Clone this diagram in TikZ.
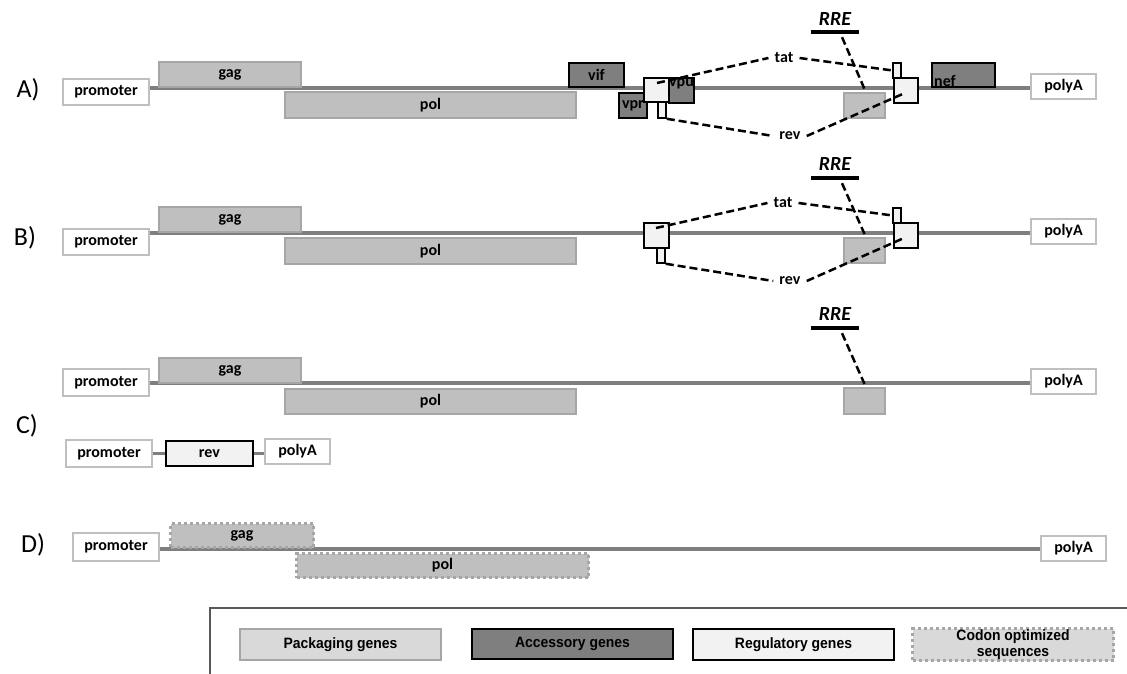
\documentclass[tikz,border=0pt]{standalone}
\usepackage{fontspec}
\setmainfont{Carlito}
\newfontfamily\legfont{Liberation Sans}[FakeStretch=0.93]

\definecolor{packfill}{HTML}{BFBFBF}
\definecolor{packdraw}{HTML}{A6A6A6}
\definecolor{accfill}{HTML}{7F7F7F}
\definecolor{regfill}{HTML}{F2F2F2}
\definecolor{endsdraw}{HTML}{BFBFBF}
\definecolor{bbone}{HTML}{7F7F7F}
\definecolor{legpack}{HTML}{D9D9D9}
\definecolor{legframe}{HTML}{595959}

\tikzset{
  wh/.style 2 args={minimum width=#1pt, minimum height=#2pt},
  box/.style={rectangle, inner sep=0pt, anchor=north west, font=\bfseries\fontsize{16}{17}\selectfont},
  ends/.style={box, draw=endsdraw, fill=white, line width=2pt},
  pack/.style={box, draw=packdraw, fill=packfill, line width=2pt},
  acc/.style={box, draw=black, fill=accfill, line width=2pt},
  reg/.style={box, draw=black, fill=regfill, line width=1.8pt},
  codon/.style={box, draw=packdraw, fill=packfill, line width=3pt, dash pattern=on 3pt off 3pt},
  backbone/.style={draw=bbone, line width=3.5pt},
  splice/.style={draw=black, line width=2.5pt, dash pattern=on 8pt off 4pt},
  rrebar/.style={fill=black, inner sep=0pt, minimum width=48pt, minimum height=4pt},
  lbl/.style={inner sep=0pt, font=\bfseries\fontsize{16}{17}\selectfont},
  gaplbl/.style={lbl, inner xsep=6pt},
  rre/.style={inner sep=0pt, font=\bfseries\itshape\fontsize{20}{21}\selectfont},
  rowlbl/.style={inner sep=0pt, font=\fontsize{26}{27}\selectfont},
  legtxt/.style={font=\legfont\bfseries\fontsize{15}{15}\selectfont, align=center},
}

\begin{document}
\begin{tikzpicture}[x=1pt, y=-1pt]
\useasboundingbox (0,0) rectangle (1127,674);

% ---------------- Row A ----------------
\node[rowlbl] (labA) at (28,90) {A)};
\node[ends, wh={86}{26}] (promA) at (62,78) {promoter};
\node[ends, wh={65}{25}] (pAA) at (1030,73) {polyA};
\coordinate (bbA) at (0,88);
\draw[backbone] (promA.east |- bbA) -- (pAA.west |- bbA);
\node[pack, wh={142}{25}] (gagA) at (158,61) {gag};
\node[pack, wh={291}{26}] (polA) at (284,91) {pol};
\node[pack, wh={41}{25}] (rreboxA) at (843,92) {};
\node[acc, wh={55}{24}] (vifA) at (568,62) {vif};
\node[acc, wh={28}{25}] (vprA) at (618,92) {vpr};
\node[acc, wh={25}{25}] (vpuA) at (668,77) {};
\node[lbl, anchor=north] (vpuAt) at ([yshift=-1pt]vpuA.north) {vpu};
\node[acc, wh={63}{24}] (nefA) at (931,62) {};
\node[lbl, anchor=south west] (nefAt) at ([xshift=3pt,yshift=1pt]nefA.south west) {nef};
\node[reg, wh={8}{16}] (tab1A) at (657,101) {};
\node[reg, wh={25}{24}] (ex1A) at (643,77) {};
\node[reg, wh={8}{15}] (tab2A) at (892,62) {};
\node[reg, wh={24}{25}] (ex2A) at (893,77) {};
\node[gaplbl] (tatA) at (784,58) {tat};
\node[gaplbl] (revA) at (790,136) {rev};
\node[rre] (rreA) at (835,19) {RRE};
\node[rrebar] (barA) at (835,32) {};
\coordinate (t1A) at (657,83);
\coordinate (r2A) at (905,93);
\draw[splice] (t1A) -- (tatA.west);
\draw[splice] (tatA.east) -- (tab2A.west);
\draw[splice] (tab1A.south east) -- (revA.west);
\draw[splice] (revA.east) -- (r2A);
\draw[splice] ([xshift=7pt,yshift=-3pt]barA.south) -- ([yshift=3pt]rreboxA.north);

% ---------------- Row B ----------------
\node[rowlbl] (labB) at (25,238) {B)};
\node[ends, wh={86}{26}] (promB) at (62,228) {promoter};
\node[ends, wh={65}{25}] (pAB) at (1030,218) {polyA};
\coordinate (bbB) at (0,233);
\draw[backbone] (promB.east |- bbB) -- (pAB.west |- bbB);
\node[pack, wh={142}{25}] (gagB) at (158,206) {gag};
\node[pack, wh={291}{26}] (polB) at (284,237) {pol};
\node[pack, wh={41}{25}] (rreboxB) at (843,237) {};
\node[reg, wh={8}{15}] (tab1B) at (656,247) {};
\node[reg, wh={25}{25}] (ex1B) at (643,222) {};
\node[reg, wh={8}{15}] (tab2B) at (892,207) {};
\node[reg, wh={24}{25}] (ex2B) at (893,222) {};
\node[gaplbl] (tatB) at (783,203) {tat};
\node[gaplbl] (revB) at (790,281) {rev};
\node[rre] (rreB) at (835,164) {RRE};
\node[rrebar] (barB) at (835,178) {};
\coordinate (t1B) at (656,228);
\coordinate (r2B) at (904,238);
\draw[splice] (t1B) -- (tatB.west);
\draw[splice] (tatB.east) -- (tab2B.west);
\draw[splice] (tab1B.south east) -- (revB.west);
\draw[splice] (revB.east) -- (r2B);
\draw[splice] ([xshift=7pt,yshift=-3pt]barB.south) -- ([yshift=3pt]rreboxB.north);

% ---------------- Row C ----------------
\node[rowlbl] (labC) at (27,426) {C)};
\node[ends, wh={86}{27}] (promC) at (62,368) {promoter};
\node[ends, wh={65}{25}] (pAC) at (1030,368) {polyA};
\coordinate (bbC) at (0,383);
\draw[backbone] (promC.east |- bbC) -- (pAC.west |- bbC);
\node[pack, wh={142}{25}] (gagC) at (158,357) {gag};
\node[pack, wh={291}{25}] (polC) at (284,388) {pol};
\node[pack, wh={41}{26}] (rreboxC) at (843,387) {};
\node[rre] (rreC) at (835,314) {RRE};
\node[rrebar] (barC) at (835,328) {};
\draw[splice] ([xshift=7pt,yshift=-3pt]barC.south) -- ([yshift=3pt]rreboxC.north);

\node[ends, wh={86}{27}] (promC2) at (65,439) {promoter};
\node[reg, wh={87}{25}] (revC2) at (165,440) {rev};
\node[ends, wh={65}{25}] (pAC2) at (264,438) {polyA};
\draw[backbone] (promC2.east |- revC2.west) -- (revC2.west);
\draw[backbone] (revC2.east) -- (pAC2.west |- revC2.east);

% ---------------- Row D ----------------
\node[rowlbl] (labD) at (33,545) {D)};
\node[ends, wh={86}{28}] (promD) at (72,532) {promoter};
\node[ends, wh={65}{25}] (pAD) at (1040,535) {polyA};
\coordinate (bbD) at (0,549);
\draw[backbone] (promD.east |- bbD) -- (pAD.west |- bbD);
\node[codon, wh={143}{24}] (gagD) at (169,522) {gag};
\node[codon, wh={292}{24}] (polD) at (295,552) {pol};

% ---------------- Legend ----------------
\coordinate (fr1) at (1127,608);
\coordinate (fr2) at (210,608);
\coordinate (fr3) at (210,674);
\draw[legframe, line width=1.5pt] (fr1) -- (fr2) -- (fr3);
\node[box, draw=packdraw, fill=legpack, line width=2pt, wh={201}{31}, legtxt] (legP) at (239,628) {Packaging genes};
\node[box, draw=black, fill=accfill, line width=2pt, wh={201}{30}, legtxt] (legA) at (471,628) {Accessory genes};
\node[box, draw=black, fill=regfill, line width=2pt, wh={201}{31}, legtxt] (legR) at (692,628) {Regulatory genes};
\node[box, draw=packdraw, fill=legpack, line width=3pt, dash pattern=on 3pt off 3pt, wh={201}{32}, legtxt, font=\legfont\bfseries\fontsize{15}{16}\selectfont] (legC) at (911,627) {Codon optimized\\sequences};
\end{tikzpicture}
\end{document}
